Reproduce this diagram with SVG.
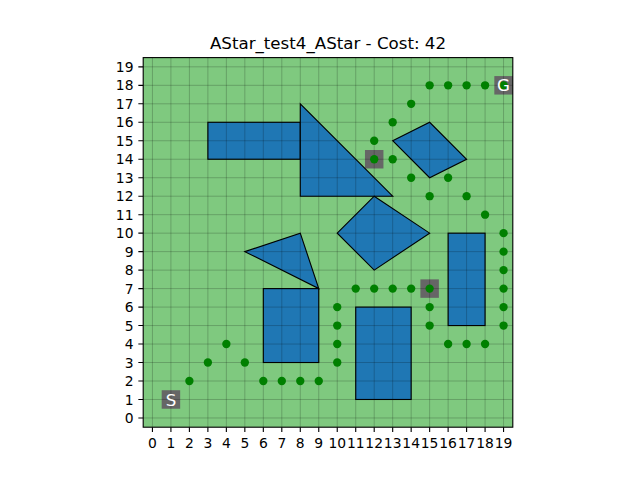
<svg xmlns="http://www.w3.org/2000/svg" width="640" height="480" viewBox="0 0 640 480">
<style>
.obs{fill:#1f77b4;stroke:#000;stroke-width:1.11;stroke-linejoin:miter}
.cell{fill:#666666}
.grid{stroke:#000;stroke-opacity:0.25;stroke-width:0.8;fill:none}
.tick{stroke:#000;stroke-width:1.11}
.tl{font-family:"DejaVu Sans",sans-serif;font-size:13.89px;fill:#000}
.lbl{font-family:"DejaVu Sans",sans-serif;font-size:16.67px;fill:#fff;text-anchor:middle}
.dot{fill:#008000}
</style>
<rect width="640" height="480" fill="#fff"/>
<text x="328" y="49.3" text-anchor="middle" font-family="DejaVu Sans, sans-serif" font-size="16.67" fill="#000">AStar_test4_AStar - Cost: 42</text>
<g id="map">
<rect x="143.2" y="57.6" width="369.6" height="369.6" fill="#7fc97f"/>
<rect class="cell" x="161.68" y="390.24" width="18.48" height="18.48"/>
<rect class="cell" x="494.32" y="76.08" width="18.48" height="18.48"/>
<rect class="cell" x="364.96" y="150.00" width="18.48" height="18.48"/>
<rect class="cell" x="420.40" y="279.36" width="18.48" height="18.48"/>
</g>
<g id="obstacles">
<rect class="obs" x="207.88" y="122.28" width="92.4" height="36.96"/>
<polygon class="obs" points="300.28,103.80 300.28,196.20 392.68,196.20"/>
<polygon class="obs" points="392.68,140.76 429.64,122.28 466.60,159.24 429.64,177.72"/>
<polygon class="obs" points="337.24,233.16 374.20,196.20 429.64,233.16 374.20,270.12"/>
<polygon class="obs" points="244.84,251.64 300.28,233.16 318.76,288.60"/>
<rect class="obs" x="263.32" y="288.60" width="55.44" height="73.92"/>
<rect class="obs" x="355.72" y="307.08" width="55.44" height="92.4"/>
<rect class="obs" x="448.12" y="233.16" width="36.96" height="92.4"/>
</g>
<g id="grid">
<path class="grid" d="M152.44,57.6V427.2M170.92,57.6V427.2M189.40,57.6V427.2M207.88,57.6V427.2M226.36,57.6V427.2M244.84,57.6V427.2M263.32,57.6V427.2M281.80,57.6V427.2M300.28,57.6V427.2M318.76,57.6V427.2M337.24,57.6V427.2M355.72,57.6V427.2M374.20,57.6V427.2M392.68,57.6V427.2M411.16,57.6V427.2M429.64,57.6V427.2M448.12,57.6V427.2M466.60,57.6V427.2M485.08,57.6V427.2M503.56,57.6V427.2"/>
<path class="grid" d="M143.2,417.96H512.8M143.2,399.48H512.8M143.2,381.00H512.8M143.2,362.52H512.8M143.2,344.04H512.8M143.2,325.56H512.8M143.2,307.08H512.8M143.2,288.60H512.8M143.2,270.12H512.8M143.2,251.64H512.8M143.2,233.16H512.8M143.2,214.68H512.8M143.2,196.20H512.8M143.2,177.72H512.8M143.2,159.24H512.8M143.2,140.76H512.8M143.2,122.28H512.8M143.2,103.80H512.8M143.2,85.32H512.8M143.2,66.84H512.8"/>
</g>
<g id="path">
<circle class="dot" cx="189.40" cy="381.00" r="4.17"/>
<circle class="dot" cx="207.88" cy="362.52" r="4.17"/>
<circle class="dot" cx="226.36" cy="344.04" r="4.17"/>
<circle class="dot" cx="244.84" cy="362.52" r="4.17"/>
<circle class="dot" cx="263.32" cy="381.00" r="4.17"/>
<circle class="dot" cx="281.80" cy="381.00" r="4.17"/>
<circle class="dot" cx="300.28" cy="381.00" r="4.17"/>
<circle class="dot" cx="318.76" cy="381.00" r="4.17"/>
<circle class="dot" cx="337.24" cy="362.52" r="4.17"/>
<circle class="dot" cx="337.24" cy="344.04" r="4.17"/>
<circle class="dot" cx="337.24" cy="325.56" r="4.17"/>
<circle class="dot" cx="337.24" cy="307.08" r="4.17"/>
<circle class="dot" cx="355.72" cy="288.60" r="4.17"/>
<circle class="dot" cx="374.20" cy="288.60" r="4.17"/>
<circle class="dot" cx="392.68" cy="288.60" r="4.17"/>
<circle class="dot" cx="411.16" cy="288.60" r="4.17"/>
<circle class="dot" cx="429.64" cy="288.60" r="4.17"/>
<circle class="dot" cx="429.64" cy="307.08" r="4.17"/>
<circle class="dot" cx="429.64" cy="325.56" r="4.17"/>
<circle class="dot" cx="448.12" cy="344.04" r="4.17"/>
<circle class="dot" cx="466.60" cy="344.04" r="4.17"/>
<circle class="dot" cx="485.08" cy="344.04" r="4.17"/>
<circle class="dot" cx="503.56" cy="325.56" r="4.17"/>
<circle class="dot" cx="503.56" cy="307.08" r="4.17"/>
<circle class="dot" cx="503.56" cy="288.60" r="4.17"/>
<circle class="dot" cx="503.56" cy="270.12" r="4.17"/>
<circle class="dot" cx="503.56" cy="251.64" r="4.17"/>
<circle class="dot" cx="503.56" cy="233.16" r="4.17"/>
<circle class="dot" cx="485.08" cy="214.68" r="4.17"/>
<circle class="dot" cx="466.60" cy="196.20" r="4.17"/>
<circle class="dot" cx="448.12" cy="177.72" r="4.17"/>
<circle class="dot" cx="429.64" cy="196.20" r="4.17"/>
<circle class="dot" cx="411.16" cy="177.72" r="4.17"/>
<circle class="dot" cx="392.68" cy="159.24" r="4.17"/>
<circle class="dot" cx="374.20" cy="159.24" r="4.17"/>
<circle class="dot" cx="374.20" cy="140.76" r="4.17"/>
<circle class="dot" cx="392.68" cy="122.28" r="4.17"/>
<circle class="dot" cx="411.16" cy="103.80" r="4.17"/>
<circle class="dot" cx="429.64" cy="85.32" r="4.17"/>
<circle class="dot" cx="448.12" cy="85.32" r="4.17"/>
<circle class="dot" cx="466.60" cy="85.32" r="4.17"/>
<circle class="dot" cx="485.08" cy="85.32" r="4.17"/>
<circle class="dot" cx="503.56" cy="85.32" r="4.17"/>
</g>
<g id="start"><text class="lbl" x="170.92" y="405.5">S</text></g>
<g id="goal"><text class="lbl" x="503.56" y="91.4">G</text></g>
<g id="axes">
<rect x="143.2" y="57.6" width="369.6" height="369.6" fill="none" stroke="#000" stroke-width="1.11"/>
<path class="tick" d="M152.44,427.2v4.86M170.92,427.2v4.86M189.40,427.2v4.86M207.88,427.2v4.86M226.36,427.2v4.86M244.84,427.2v4.86M263.32,427.2v4.86M281.80,427.2v4.86M300.28,427.2v4.86M318.76,427.2v4.86M337.24,427.2v4.86M355.72,427.2v4.86M374.20,427.2v4.86M392.68,427.2v4.86M411.16,427.2v4.86M429.64,427.2v4.86M448.12,427.2v4.86M466.60,427.2v4.86M485.08,427.2v4.86M503.56,427.2v4.86"/>
<path class="tick" d="M143.2,417.96h-4.86M143.2,399.48h-4.86M143.2,381.00h-4.86M143.2,362.52h-4.86M143.2,344.04h-4.86M143.2,325.56h-4.86M143.2,307.08h-4.86M143.2,288.60h-4.86M143.2,270.12h-4.86M143.2,251.64h-4.86M143.2,233.16h-4.86M143.2,214.68h-4.86M143.2,196.20h-4.86M143.2,177.72h-4.86M143.2,159.24h-4.86M143.2,140.76h-4.86M143.2,122.28h-4.86M143.2,103.80h-4.86M143.2,85.32h-4.86M143.2,66.84h-4.86"/>
<g class="tl" text-anchor="middle">
<text x="152.44" y="447.5">0</text><text x="170.92" y="447.5">1</text><text x="189.40" y="447.5">2</text><text x="207.88" y="447.5">3</text><text x="226.36" y="447.5">4</text><text x="244.84" y="447.5">5</text><text x="263.32" y="447.5">6</text><text x="281.80" y="447.5">7</text><text x="300.28" y="447.5">8</text><text x="318.76" y="447.5">9</text><text x="337.24" y="447.5">10</text><text x="355.72" y="447.5">11</text><text x="374.20" y="447.5">12</text><text x="392.68" y="447.5">13</text><text x="411.16" y="447.5">14</text><text x="429.64" y="447.5">15</text><text x="448.12" y="447.5">16</text><text x="466.60" y="447.5">17</text><text x="485.08" y="447.5">18</text><text x="503.56" y="447.5">19</text>
</g>
<g class="tl" text-anchor="end">
<text x="133.5" y="423.0">0</text><text x="133.5" y="404.5">1</text><text x="133.5" y="386.0">2</text><text x="133.5" y="367.5">3</text><text x="133.5" y="349.0">4</text><text x="133.5" y="330.6">5</text><text x="133.5" y="312.1">6</text><text x="133.5" y="293.6">7</text><text x="133.5" y="275.1">8</text><text x="133.5" y="256.6">9</text><text x="133.5" y="238.2">10</text><text x="133.5" y="219.7">11</text><text x="133.5" y="201.2">12</text><text x="133.5" y="182.7">13</text><text x="133.5" y="164.2">14</text><text x="133.5" y="145.8">15</text><text x="133.5" y="127.3">16</text><text x="133.5" y="108.8">17</text><text x="133.5" y="90.3">18</text><text x="133.5" y="71.8">19</text>
</g>
</g>
</svg>
